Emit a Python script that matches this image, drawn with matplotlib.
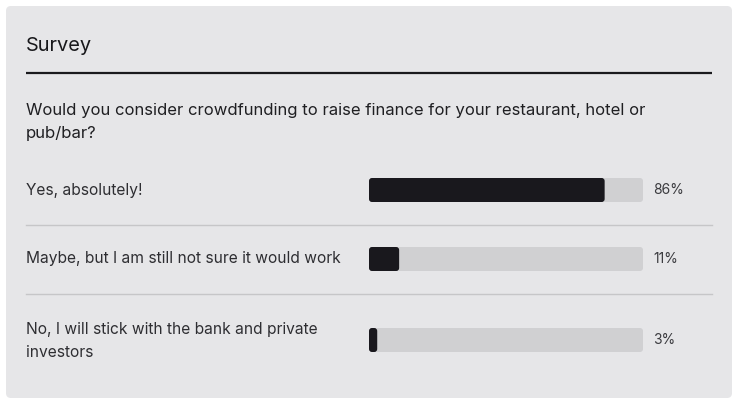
import matplotlib
matplotlib.use("Agg")
import matplotlib.pyplot as plt
from matplotlib.patches import FancyBboxPatch

title = "Survey"
question = "Would you consider crowdfunding to raise finance for your restaurant, hotel or\npub/bar?"
answers = ["Yes, absolutely!",
           "Maybe, but I am still not sure it would work",
           "No, I will stick with the bank and private\ninvestors"]
percent = [86, 11, 3]

W, H = 739, 405
plt.rcParams['font.family'] = ['Inter', 'DejaVu Sans']
fig = plt.figure(figsize=(W / 100, H / 100), dpi=100)
fig.patch.set_facecolor('white')

# background layout axes in pixel coordinates
ax = fig.add_axes([0, 0, 1, 1])
ax.set_xlim(0, W)
ax.set_ylim(H, 0)
ax.axis('off')

card = FancyBboxPatch((6, 6), 726, 392, boxstyle="round,pad=0,rounding_size=5",
                      facecolor='#e6e6e8', edgecolor='none')
ax.add_patch(card)
ax.text(26, 46, title, fontsize=14.4, color='#18181b', va='center', ha='left')
ax.plot([26, 712], [72.5, 72.5], color='#1a1a1d', lw=1.6, solid_capstyle='butt')
ax.text(26, 122, question, fontsize=12.0, color='#1f1f22', va='center', ha='left',
        linespacing=1.62)

row_y = [190, 259, 340]
label_y = [190, 259, 341]
dividers = [224.5, 293.5]
for d in dividers:
    ax.plot([26, 712], [d, d], color='#c6c6c8', lw=1.0)
for lab, y in zip(answers, label_y):
    ax.text(26, y, lab, fontsize=11.2, color='#2e2e32', va='center', ha='left',
            linespacing=1.74)

# bar axes: x in percent, y in pixel rows
x0, x1 = 369, 643
bax = fig.add_axes([x0 / W, 0, (x1 - x0) / W, 1])
bax.set_xlim(0, 100)
bax.set_ylim(H, 0)
bax.axis('off')
bax.patch.set_alpha(0)

px_x = 100 / (x1 - x0)  # data units per pixel in x
r = 3 * px_x
aspect = 1 / px_x
bh = 24
for p, y in zip(percent, row_y):
    track = FancyBboxPatch((0, y - bh / 2), 100, bh,
                           boxstyle=f"round,pad=0,rounding_size={r}",
                           mutation_aspect=aspect, facecolor='#d0d0d2', edgecolor='none')
    bax.add_patch(track)
    fill = FancyBboxPatch((0, y - bh / 2), p, bh,
                          boxstyle=f"round,pad=0,rounding_size={r}",
                          mutation_aspect=aspect, facecolor='#19181d', edgecolor='none')
    bax.add_patch(fill)
    bax.text(100 + 10 * px_x, y, f"{p}%", fontsize=10.0, color='#3a3a3e',
             va='center', ha='left', clip_on=False)

fig.savefig("out.png", dpi=100)
